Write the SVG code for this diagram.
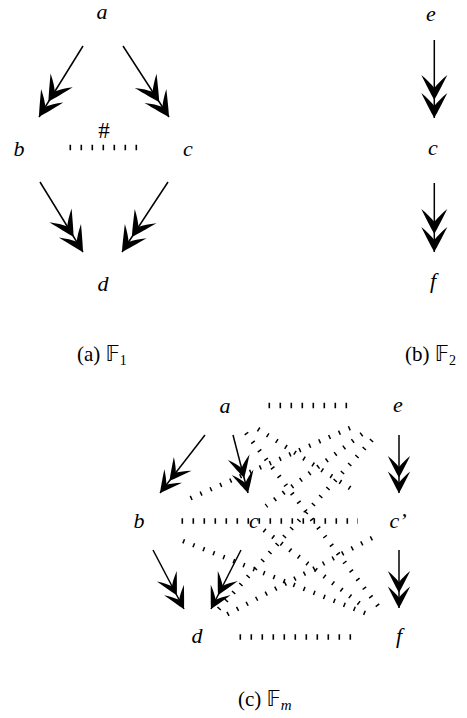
<svg xmlns="http://www.w3.org/2000/svg" width="467" height="718" viewBox="0 0 467 718">
<style>
.lbl{font-family:'Liberation Serif','Times New Roman',Times,serif;font-style:italic;font-size:22px;text-anchor:middle;fill:#000}
.cap{font-family:'Liberation Serif','Times New Roman',Times,'DejaVu Sans',serif;font-size:21px;fill:#000}
.arr{stroke:#000;stroke-width:1.5;fill:none}
.big{marker-end:url(#dh)}
.sm{marker-end:url(#dhs)}
.dot{stroke:#000;stroke-width:5.5;stroke-dasharray:1.6 9.4;fill:none}
.ddot{stroke:#000;stroke-width:4.5;stroke-dasharray:1.5 9.3;fill:none}
</style>
<defs>
<path id="chev" d="M0,0 C-6,-3.5 -15,-8 -25,-13 C-20,-7 -16,-3 -12,0 C-16,3 -20,7 -25,13 C-15,8 -6,3.5 0,0Z"/>
<marker id="dh" markerUnits="userSpaceOnUse" orient="auto" refX="0" refY="0" markerWidth="60" markerHeight="40" viewBox="-50 -20 60 40" overflow="visible">
<use href="#chev"/><use href="#chev" x="-18"/>
</marker>
<marker id="dhs" markerUnits="userSpaceOnUse" orient="auto" refX="0" refY="0" markerWidth="60" markerHeight="40" viewBox="-50 -20 60 40" overflow="visible">
<g transform="scale(0.86)"><use href="#chev"/><use href="#chev" x="-18"/></g>
</marker>
</defs>

<!-- Panel (a) -->
<g id="connectors-a">
<line class="arr big" x1="83" y1="46" x2="39" y2="117"/>
<line class="arr big" x1="123" y1="46" x2="169" y2="117"/>
<line class="arr big" x1="40" y1="182" x2="83" y2="252"/>
<line class="arr big" x1="168" y1="182" x2="122" y2="252"/>
<line class="dot" x1="69.5" y1="147.5" x2="138" y2="147.5"/>
</g>
<g id="a1"><text class="lbl" x="102" y="19">a</text></g>
<g id="b1"><text class="lbl" x="19" y="156">b</text></g>
<g id="c1"><text class="lbl" x="188" y="156">c</text></g>
<g id="d1"><text class="lbl" x="103" y="291">d</text></g>
<g id="hash"><text class="lbl" style="font-style:normal;font-size:23px" x="104" y="138">#</text></g>
<g id="capa"><text class="cap" x="77" y="361">(a) 𝔽<tspan font-size="14" dy="4">1</tspan></text></g>

<!-- Panel (b) -->
<g id="connectors-b">
<line class="arr big" x1="434.3" y1="40" x2="434.3" y2="118"/>
<line class="arr big" x1="434.3" y1="183" x2="434.3" y2="252"/>
</g>
<g id="e2"><text class="lbl" x="431" y="21">e</text></g>
<g id="c2"><text class="lbl" x="433" y="155">c</text></g>
<g id="f2"><text class="lbl" x="433" y="288">f</text></g>
<g id="capb"><text class="cap" x="405" y="361">(b) 𝔽<tspan font-size="14" dy="4">2</tspan></text></g>

<!-- Panel (c) -->
<g id="connectors-c">
<line class="dot" x1="268.5" y1="405.5" x2="351" y2="405.5"/>
<line class="dot" x1="181.5" y1="521" x2="358" y2="521"/>
<line class="dot" x1="239.5" y1="637" x2="355" y2="637"/>
<line class="ddot" x1="258" y1="429" x2="353" y2="490"/>
<line class="ddot" x1="246" y1="433" x2="378" y2="606"/>
<line class="ddot" x1="350" y1="428" x2="182" y2="502"/>
<line class="ddot" x1="362" y1="434" x2="266" y2="506"/>
<line class="ddot" x1="372" y1="440" x2="216" y2="612"/>
<line class="ddot" x1="183" y1="541" x2="370" y2="615"/>
<line class="ddot" x1="264" y1="530" x2="364" y2="607"/>
<line class="ddot" x1="372" y1="538" x2="222" y2="617"/>
<line class="arr sm" x1="205" y1="435" x2="160" y2="493"/>
<line class="arr sm" x1="233" y1="435" x2="248" y2="493"/>
<line class="arr sm" x1="153" y1="550" x2="184" y2="609"/>
<line class="arr sm" x1="241" y1="550" x2="211" y2="609"/>
<line class="arr sm" x1="399" y1="435" x2="399" y2="493"/>
<line class="arr sm" x1="399" y1="550" x2="399" y2="608"/>
</g>
<g id="a3"><text class="lbl" x="225" y="413">a</text></g>
<g id="e3"><text class="lbl" x="398" y="412">e</text></g>
<g id="b3"><text class="lbl" x="139" y="528">b</text></g>
<g id="c3"><text class="lbl" x="254" y="528">c</text></g>
<g id="cp3"><text class="lbl" x="398" y="528">c’</text></g>
<g id="d3"><text class="lbl" x="197" y="643">d</text></g>
<g id="f3"><text class="lbl" x="399" y="643">f</text></g>
<g id="capc"><text class="cap" x="238" y="706">(c) 𝔽<tspan font-size="15" font-style="italic" dy="4">m</tspan></text></g>
</svg>
